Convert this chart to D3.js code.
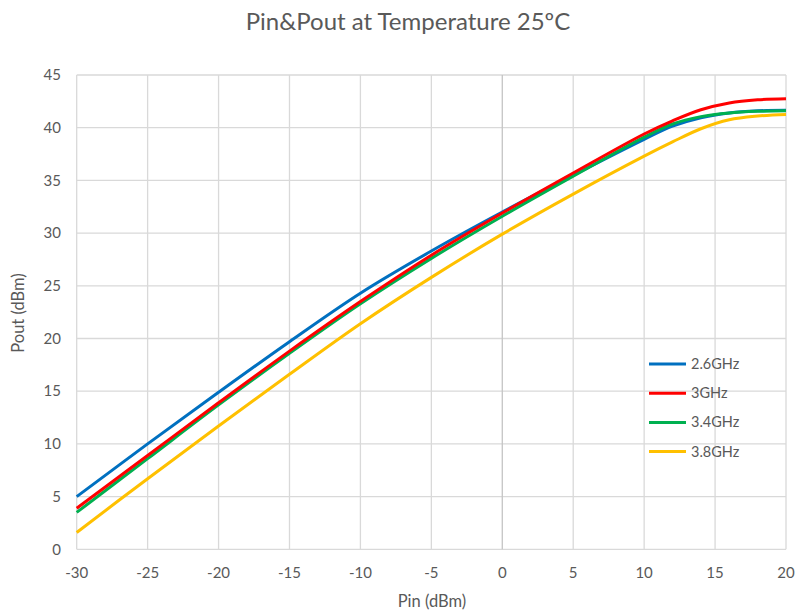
<!DOCTYPE html>
<html><head><meta charset="utf-8">
<script src="https://cdn.jsdelivr.net/npm/d3@7"></script>
<style>body{margin:0;background:#fff;} svg{display:block;font-family:Lato,"Open Sans",sans-serif;}</style>
</head><body>
<svg id="c" width="797" height="611"></svg>
<script>
const pinValues = [-30,-25,-20,-15,-10,-5,0,5,10,12,14,16,18,20];
const pout26 = [5.0,10.0,14.9,19.7,24.3,28.3,32.0,35.5,38.9,40.15,40.95,41.4,41.6,41.65];
const pout30 = [3.9,8.9,13.9,18.8,23.5,27.9,31.9,35.7,39.4,40.65,41.7,42.35,42.65,42.75];
const pout34 = [3.5,8.6,13.7,18.6,23.3,27.6,31.6,35.4,39.1,40.35,41.05,41.4,41.55,41.6];
const pout38 = [1.6,6.7,11.7,16.6,21.4,25.8,29.9,33.7,37.3,38.65,39.9,40.75,41.1,41.25];
const seriesNames = ["2.6GHz","3GHz","3.4GHz","3.8GHz"];
const seriesColors = ["#0070C0","#FF0000","#00B050","#FFC000"];
const xTicks = [-30,-25,-20,-15,-10,-5,0,5,10,15,20];
const yTicks = [0,5,10,15,20,25,30,35,40,45];

const svg = d3.select("#c");
const L=76.7, R=786, T=75, B=549.3;
const x = d3.scaleLinear().domain([-30,20]).range([L,R]);
const y = d3.scaleLinear().domain([0,45]).range([B,T]);

// grid
svg.append("g").selectAll("line").data(yTicks).join("line")
  .attr("x1",L).attr("x2",R).attr("y1",d=>y(d)).attr("y2",d=>y(d))
  .attr("stroke","#d9d9d9").attr("stroke-width",1.3);
svg.append("g").selectAll("line").data(xTicks).join("line")
  .attr("y1",T).attr("y2",B).attr("x1",d=>x(d)).attr("x2",d=>x(d))
  .attr("stroke",d=>d===0?"#c4c4c4":"#d9d9d9").attr("stroke-width",1.3);

// tick labels
svg.append("g").selectAll("text").data(yTicks).join("text")
  .attr("x",61).attr("y",d=>y(d)).attr("dy","0.35em").attr("text-anchor","end")
  .attr("font-size",15).attr("fill","#595959").text(d=>d);
svg.append("g").selectAll("text").data(xTicks).join("text")
  .attr("x",d=>x(d)).attr("y",578).attr("text-anchor","middle")
  .attr("font-size",15).attr("fill","#595959").text(d=>d);

// lines
const allSeries = [pout26,pout30,pout34,pout38];
const drawOrder = [0,2,1,3];
const line = d3.line().x((d,i)=>x(pinValues[i])).y(d=>y(d)).curve(d3.curveCatmullRom.alpha(0.5));
drawOrder.forEach(k=>{
  svg.append("path").datum(allSeries[k]).attr("d",line)
    .attr("fill","none").attr("stroke",seriesColors[k]).attr("stroke-width",3)
    .attr("stroke-linejoin","round").attr("stroke-linecap","butt");
});

// legend
const lg = svg.append("g");
seriesNames.forEach((n,i)=>{
  const yy = 364 + i*29.2;
  lg.append("line").attr("x1",649).attr("x2",686).attr("y1",yy).attr("y2",yy)
    .attr("stroke",seriesColors[i]).attr("stroke-width",3);
  lg.append("text").attr("x",691).attr("y",yy).attr("dy","0.35em")
    .attr("font-size",14.5).attr("fill","#595959").text(n);
});

// titles
svg.append("text").attr("x",408).attr("y",30).attr("text-anchor","middle")
  .attr("font-size",24).attr("fill","#595959").text("Pin&Pout at Temperature 25ºC");
svg.append("text").attr("x",432).attr("y",607).attr("text-anchor","middle")
  .attr("font-size",16.5).attr("fill","#595959").text("Pin (dBm)");
svg.append("text").attr("transform","translate(24,313) rotate(-90)").attr("text-anchor","middle")
  .attr("font-size",16.5).attr("fill","#595959").text("Pout (dBm)");
</script>
</body></html>
